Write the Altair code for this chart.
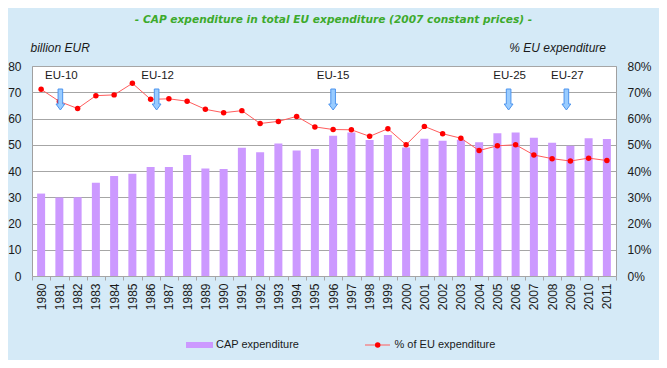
import altair as alt
import pandas as pd

years = [str(y) for y in range(1980, 2012)]
cap_expenditure = [31.4, 29.9, 30.0, 35.5, 38.1, 39.0, 41.5, 41.5, 46.1, 41.0,
                   40.8, 48.9, 47.1, 50.5, 47.8, 48.4, 53.4, 54.7, 51.8, 53.7,
                   49.0, 52.3, 51.5, 51.9, 51.0, 54.4, 54.7, 52.7, 50.8, 49.6,
                   52.5, 52.2]
pct_eu = [71.1, 66.5, 63.8, 68.7, 69.0, 73.4, 67.3, 67.5, 66.6, 63.5,
          62.2, 63.0, 58.1, 58.9, 60.8, 56.8, 55.8, 55.7, 53.2, 56.1,
          50.0, 57.0, 54.2, 52.5, 47.8, 49.6, 50.0, 46.1, 44.7, 43.8,
          44.9, 44.0]
enlargements = ["EU-10", "EU-12", "EU-15", "EU-25", "EU-27"]
enlargement_years = ["1981", "1986", "1996", "2006", "2009"]
title_text = "- CAP expenditure in total EU expenditure (2007 constant prices) -"
left_title = "billion EUR"
right_title = "% EU expenditure"
legend_labels = ["CAP expenditure", "% of EU expenditure"]

# style constants (pixel nudges for the enlargement markers)
label_nudge = [2, 7, 0, -6, -3]
arrow_nudge = [1, 6, 0, -7, -4]

FONT = "Liberation Sans"
TXT = "#1a1a1a"
GRID = "#A6A6A6"
ARROW_SIZE = 441  # symbol area; path unit = sqrt(size)/2 px

df = pd.DataFrame({"year": years, "cap": cap_expenditure, "pct": pct_eu})

xscale = alt.Scale(domain=years, paddingInner=0, paddingOuter=0)
x_enc = alt.X("year:O", scale=xscale, sort=years,
              axis=alt.Axis(title=None, labelAngle=-90, labelFontSize=12,
                            labelFont=FONT, labelColor=TXT, domain=False,
                            ticks=True, tickBand="extent", tickSize=4,
                            tickColor=GRID, labelPadding=3, grid=False))

bars = alt.Chart(df).mark_bar(width=8, color="#CC99FF").encode(
    x=x_enc,
    y=alt.Y("cap:Q", scale=alt.Scale(domain=[0, 80], nice=False),
            axis=alt.Axis(title=None, values=list(range(0, 81, 10)), grid=True,
                          gridColor=GRID, gridWidth=1, ticks=False, domain=False,
                          labelPadding=11, labelFontSize=12, labelFont=FONT,
                          labelColor=TXT)),
)

pbase = alt.Chart(df).encode(
    x=alt.X("year:O", scale=xscale, sort=years),
    y=alt.Y("pct:Q", scale=alt.Scale(domain=[0, 80], nice=False),
            axis=alt.Axis(title=None, orient="right", values=list(range(0, 81, 10)),
                          labelExpr="datum.value + '%'", grid=False, ticks=False,
                          domain=False, labelPadding=11, labelFontSize=12,
                          labelFont=FONT, labelColor=TXT)),
)
line = pbase.mark_line(color="#FF5C5C", strokeWidth=1)
pts = pbase.mark_circle(color="#FF0000", size=30, opacity=1)


def arrow_path(shift_px):
    u = (ARROW_SIZE ** 0.5) / 2.0
    s = shift_px / u
    pts_ = [(-0.22, -1), (0.22, -1), (0.22, 0.43), (0.42, 0.43), (0, 1),
            (-0.42, 0.43), (-0.22, 0.43)]
    return "M" + " L".join(f"{x + s:.3f},{y:.3f}" for x, y in pts_) + " Z"


annots = []
for lab, yr, dl, da in zip(enlargements, enlargement_years, label_nudge, arrow_nudge):
    adf = pd.DataFrame({"year": [yr], "label": [lab]})
    annots.append(
        alt.Chart(adf).mark_point(shape=arrow_path(da), size=ARROW_SIZE, filled=True,
                                  fill="#99CCFF", stroke="#4D94EE", strokeWidth=1,
                                  opacity=1).encode(
            x=alt.X("year:O", scale=xscale, sort=years), y=alt.value(33.5))
    )
    annots.append(
        alt.Chart(adf).mark_text(font=FONT, fontSize=11.5, color=TXT,
                                 baseline="middle", dx=dl).encode(
            x=alt.X("year:O", scale=xscale, sort=years), y=alt.value(10),
            text="label:N")
    )

txt_df = pd.DataFrame({"t": [title_text, left_title, right_title] + legend_labels})

title = alt.Chart(txt_df.iloc[[0]]).mark_text(
    font="DejaVu Sans", fontSize=10.6, fontWeight="bold", fontStyle="italic",
    color="#3DAA2C", align="center", baseline="middle").encode(
    x=alt.value(301.5), y=alt.value(-46), text="t:N")
ltitle = alt.Chart(txt_df.iloc[[1]]).mark_text(
    font=FONT, fontSize=12, fontStyle="italic", color=TXT, align="left",
    baseline="middle").encode(x=alt.value(-1.5), y=alt.value(-18), text="t:N")
rtitle = alt.Chart(txt_df.iloc[[2]]).mark_text(
    font=FONT, fontSize=12, fontStyle="italic", color=TXT, align="right",
    baseline="middle").encode(x=alt.value(574), y=alt.value(-18), text="t:N")

leg_rect = alt.Chart(txt_df.iloc[[3]]).mark_rect(color="#CC99FF").encode(
    x=alt.value(154), x2=alt.value(181), y=alt.value(276), y2=alt.value(282))
leg_t1 = alt.Chart(txt_df.iloc[[3]]).mark_text(
    font=FONT, fontSize=11, color=TXT, align="left", baseline="middle").encode(
    x=alt.value(184), y=alt.value(279), text="t:N")
leg_rule = alt.Chart(txt_df.iloc[[4]]).mark_rule(color="#FF5C5C", strokeWidth=1).encode(
    x=alt.value(333), x2=alt.value(358), y=alt.value(279))
leg_dot = alt.Chart(txt_df.iloc[[4]]).mark_circle(color="#FF0000", size=30, opacity=1).encode(
    x=alt.value(345.7), y=alt.value(279))
leg_t2 = alt.Chart(txt_df.iloc[[4]]).mark_text(
    font=FONT, fontSize=11, color=TXT, align="left", baseline="middle").encode(
    x=alt.value(362.5), y=alt.value(279), text="t:N")

chart = alt.layer(
    bars, alt.layer(line, pts), *annots, title, ltitle, rtitle,
    leg_rect, leg_t1, leg_rule, leg_dot, leg_t2
).resolve_scale(y="independent").properties(
    width=584, height=210,
    padding={"left": 24, "top": 58, "right": 43, "bottom": 84},
    autosize=alt.AutoSizeParams(type="none"),
).configure(background="#D5EAF7").configure_view(
    stroke="#A0A0A0", strokeWidth=1, fill="white")

chart.save("out.html", embed_options={"renderer": "svg", "actions": False})
